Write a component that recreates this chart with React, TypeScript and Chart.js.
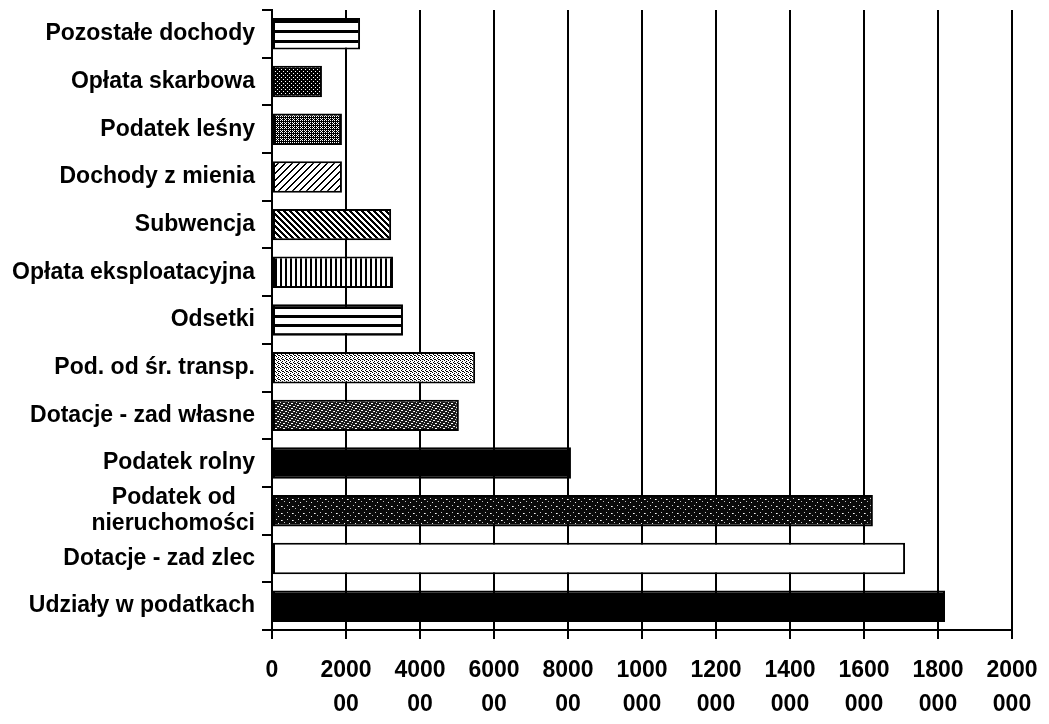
import React, { useEffect, useRef } from 'react';
import { Chart, registerables } from 'chart.js';

Chart.register(...registerables);

const categories: (string | string[])[] = [
  'Pozostałe dochody',
  'Opłata skarbowa',
  'Podatek leśny',
  'Dochody z mienia',
  'Subwencja',
  'Opłata eksploatacyjna',
  'Odsetki',
  'Pod. od śr. transp.',
  'Dotacje - zad własne',
  'Podatek rolny',
  ['Podatek od   ', 'nieruchomości'],
  'Dotacje - zad zlec',
  'Udziały w podatkach',
];

const values = [238000, 135000, 189000, 189000, 322000, 327000, 354000, 549000, 505000, 808000, 1624000, 1711000, 1819000];

const xTickLabels: string[][] = [
  ['0'],
  ['2000', '00'],
  ['4000', '00'],
  ['6000', '00'],
  ['8000', '00'],
  ['1000', '000'],
  ['1200', '000'],
  ['1400', '000'],
  ['1600', '000'],
  ['1800', '000'],
  ['2000', '000'],
];

const fillKinds = [
  'hlinesWide', 'dotsDark', 'checkDark', 'diagFwd', 'diagBack', 'vlines', 'hlines',
  'fineHatch', 'noiseDark', 'solid', 'noiseDarker', 'white', 'solid',
];

function makeFill(kind: string): CanvasPattern | string {
  if (kind === 'solid') return '#000';
  if (kind === 'white') return '#fff';
  const c = document.createElement('canvas');
  const g = c.getContext('2d')!;
  const px = (x: number, y: number, col = '#000') => { g.fillStyle = col; g.fillRect(x, y, 1, 1); };
  switch (kind) {
    case 'hlinesWide':
      c.width = 8; c.height = 10;
      g.fillStyle = '#fff'; g.fillRect(0, 0, 8, 10);
      g.fillStyle = '#000'; g.fillRect(0, 0, 8, 3);
      break;
    case 'hlines':
      c.width = 8; c.height = 9;
      g.fillStyle = '#fff'; g.fillRect(0, 0, 8, 9);
      g.fillStyle = '#000'; g.fillRect(0, 0, 8, 3);
      break;
    case 'dotsDark':
      c.width = 4; c.height = 4;
      g.fillStyle = '#000'; g.fillRect(0, 0, 4, 4);
      px(1, 1, '#fff'); px(3, 3, '#fff');
      break;
    case 'checkDark':
      c.width = 4; c.height = 4;
      g.fillStyle = '#000'; g.fillRect(0, 0, 4, 4);
      px(0, 0, '#fff'); px(2, 2, '#fff'); px(2, 0, '#fff'); px(0, 2, '#fff');
      px(1, 3, '#fff');
      break;
    case 'diagFwd':
      c.width = 7; c.height = 7;
      g.fillStyle = '#fff'; g.fillRect(0, 0, 7, 7);
      for (let i = 0; i < 7; i++) { px(6 - i, i); px((7 - i) % 7, i); }
      break;
    case 'diagBack':
      c.width = 6; c.height = 6;
      g.fillStyle = '#fff'; g.fillRect(0, 0, 6, 6);
      for (let i = 0; i < 6; i++) { px(i, i); px((i + 1) % 6, i); px((i + 2) % 6, i); }
      break;
    case 'vlines':
      c.width = 5; c.height = 2;
      g.fillStyle = '#fff'; g.fillRect(0, 0, 5, 2);
      g.fillStyle = '#000'; g.fillRect(0, 0, 2, 2);
      break;
    case 'fineHatch':
      c.width = 4; c.height = 4;
      g.fillStyle = '#fff'; g.fillRect(0, 0, 4, 4);
      px(0, 0); px(2, 1); px(1, 2); px(3, 3); px(2, 3);
      break;
    case 'noiseDark':
      c.width = 8; c.height = 5;
      g.fillStyle = '#1a1a1a'; g.fillRect(0, 0, 8, 5);
      px(1, 0, '#fff'); px(2, 0, '#fff'); px(5, 1, '#ddd'); px(6, 1, '#fff');
      px(0, 2, '#eee'); px(3, 3, '#fff'); px(4, 3, '#fff'); px(7, 4, '#ccc');
      break;
    case 'noiseDarker':
      c.width = 11; c.height = 7;
      g.fillStyle = '#0a0a0a'; g.fillRect(0, 0, 11, 7);
      px(1, 1, '#ccc'); px(6, 2, '#fff'); px(7, 2, '#aaa'); px(3, 5, '#eee'); px(9, 4, '#bbb');
      break;
  }
  return g.createPattern(c, 'repeat') as CanvasPattern;
}

export default function App() {
  const ref = useRef<HTMLCanvasElement | null>(null);
  useEffect(() => {
    if (!ref.current) return;
    const fills = fillKinds.map(makeFill);
    const chart = new Chart(ref.current, {
      type: 'bar',
      data: {
        labels: categories as any,
        datasets: [
          {
            data: values,
            backgroundColor: fills as any,
            borderColor: '#000',
            borderWidth: 2,
            borderSkipped: false,
            barPercentage: 0.66,
            categoryPercentage: 1,
          },
        ],
      },
      options: {
        indexAxis: 'y',
        animation: false,
        responsive: false,
        maintainAspectRatio: false,
        layout: { padding: { top: 10, right: 37, left: 0, bottom: 0 } },
        plugins: { legend: { display: false }, tooltip: { enabled: false } },
        scales: {
          x: {
            min: 0,
            max: 2000000,
            afterBuildTicks: (s: any) => {
              s.ticks = xTickLabels.map((_, i) => ({ value: i * 200000 }));
            },
            afterFit: (s: any) => { s.height = 94; s.paddingLeft = 0; s.paddingRight = 0; },
            border: { display: true, color: '#000', width: 2 },
            grid: { color: '#000', lineWidth: 2, tickLength: 9, drawOnChartArea: true },
            ticks: {
              color: '#000',
              padding: 14,
              maxRotation: 0,
              autoSkip: false,
              font: { family: '"Liberation Sans", Arial, sans-serif', size: 23, weight: 'bold', lineHeight: 1.5 },
              callback: (_v: any, i: number) => xTickLabels[i],
            },
          },
          y: {
            afterFit: (s: any) => { s.width = 272; s.paddingTop = 0; s.paddingBottom = 0; },
            border: { display: true, color: '#000', width: 2 },
            grid: { color: '#000', lineWidth: 2, tickLength: 10, drawOnChartArea: false, offset: true },
            ticks: {
              color: '#000',
              padding: 7,
              autoSkip: false,
              font: { family: '"Liberation Sans", Arial, sans-serif', size: 23, weight: 'bold', lineHeight: 1.1 },
            },
          },
        },
      },
    });
    return () => chart.destroy();
  }, []);
  return (
    <div style={{ position: 'fixed', left: 0, top: 0, width: 1049, height: 724, background: '#fff' }}>
      <canvas ref={ref} width={1049} height={724} style={{ width: 1049, height: 724, display: 'block' }} />
    </div>
  );
}
